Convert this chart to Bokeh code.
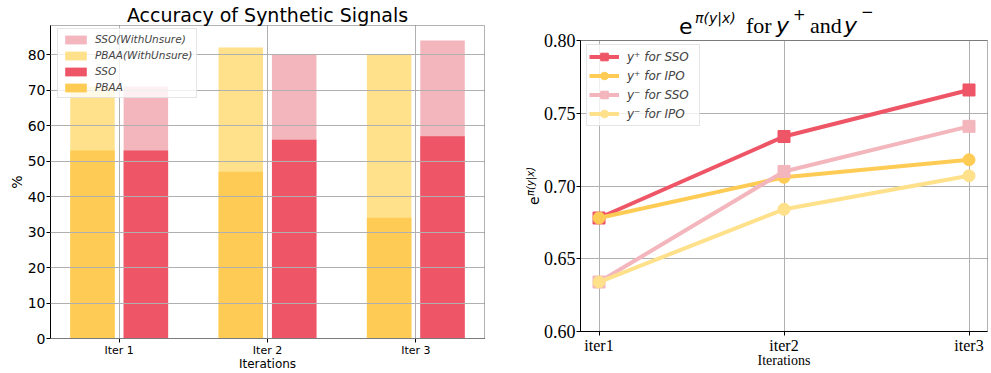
import math
from bokeh.plotting import figure
from bokeh.models import (Range1d, FixedTicker, Label, Legend, LegendItem,
                          ColumnDataSource, NumeralTickFormatter, BoxAnnotation, Grid)
from bokeh.transform import dodge
from bokeh.layouts import row
from bokeh.embed import file_html
from bokeh.resources import INLINE

# ---------------- data: left chart ----------------
iterations = ["Iter 1", "Iter 2", "Iter 3"]
pbaa = [53, 47, 34]
pbaa_unsure = [71, 82, 80]
sso = [53, 56, 57]
sso_unsure = [71, 80, 84]
acc_ticks = [0, 10, 20, 30, 40, 50, 60, 70, 80]

# ---------------- data: right chart ----------------
iter_labels = ["iter1", "iter2", "iter3"]
ypos_sso = [0.678, 0.734, 0.766]
ypos_ipo = [0.678, 0.706, 0.718]
yneg_sso = [0.634, 0.710, 0.741]
yneg_ipo = [0.634, 0.684, 0.707]
prob_ticks = [0.60, 0.65, 0.70, 0.75, 0.80]

RED = "#ee5566"
YEL = "#fecc55"
RED_L = "#f3b6bd"
YEL_L = "#fee18a"
GRID = "#b0b0b0"

# canvas / plotting-box geometry (pixels inside each canvas)
H = 372
P1_W = 500
P1_BOX = dict(left=50, right=484, top=25, bottom=338)
P2_W = 490
P2_BOX = dict(left=80, right=487, top=40, bottom=331)

HAS_CROSS = "cross_bounds" in Grid.properties()
MID = 0.346  # em-box middle above the baseline (DejaVu / Liberation)


def ext_range(v0, v1, a0, a1, total):
    """data range whose [v0, v1] lands on pixels [a0, a1] of a span of `total` px"""
    k = (v1 - v0) / (a1 - a0)
    return Range1d(v0 - a0 * k, v1 + (total - a1) * k)


def make_fig(w, box, x0, x1, y0, y1):
    xr = ext_range(x0, x1, box["left"], box["right"], w)
    yr = ext_range(y0, y1, H - box["bottom"], H - box["top"], H)
    p = figure(width=w, height=H, x_range=xr, y_range=yr, output_backend="svg",
               toolbar_location=None, title=None, min_border=0,
               min_border_left=0, min_border_right=0, min_border_top=0,
               min_border_bottom=0, background_fill_color="white",
               border_fill_color="white")
    p.outline_line_color = None
    p.xaxis.fixed_location = y0
    p.yaxis.fixed_location = x0
    p.xaxis.bounds = (x0, x1)
    p.yaxis.bounds = (y0, y1)
    for g in (p.xgrid, p.ygrid):
        g.grid_line_color = GRID
        g.grid_line_width = 1
    if HAS_CROSS:
        p.xgrid.cross_bounds = (y0, y1)
        p.ygrid.cross_bounds = (x0, x1)
    for ax in (p.xaxis, p.yaxis):
        ax.major_tick_out = 4
        ax.major_tick_in = 0
        ax.minor_tick_line_color = None
        ax.axis_line_color = "black"
        ax.major_tick_line_color = "black"
        ax.major_label_text_color = "black"
        ax.axis_label_text_color = "black"
        ax.axis_label_text_font_style = "normal"
    return p


def add_box(p, x0, x1, y0, y1):
    p.add_layout(BoxAnnotation(left=x0, right=x1, bottom=y0, top=y1, fill_color=None,
                               fill_alpha=0, line_color="black", line_width=1))


# ================= left figure =================
xs = list(range(len(iterations)))
bar_off = 0.18
bar_w = 0.3
lo = min(xs) - bar_off - bar_w / 2
hi = max(xs) + bar_off + bar_w / 2
pad = (hi - lo) * 0.05
X10, X11 = lo - pad, hi + pad
ymax = max(pbaa_unsure + sso_unsure) * 1.05

src = ColumnDataSource(dict(x=xs, pbaa=pbaa, pbaa_u=pbaa_unsure, sso=sso, sso_u=sso_unsure))

p1 = make_fig(P1_W, P1_BOX, X10, X11, 0, ymax)

r_pu = p1.vbar(x=dodge("x", -bar_off), top="pbaa_u", width=bar_w, source=src,
               fill_color=YEL_L, line_color=None)
r_su = p1.vbar(x=dodge("x", bar_off), top="sso_u", width=bar_w, source=src,
               fill_color=RED_L, line_color=None)
r_p = p1.vbar(x=dodge("x", -bar_off), top="pbaa", width=bar_w, source=src,
              fill_color=YEL, line_color=None)
r_s = p1.vbar(x=dodge("x", bar_off), top="sso", width=bar_w, source=src,
              fill_color=RED, line_color=None)

p1.xaxis.ticker = FixedTicker(ticks=xs)
p1.xaxis.major_label_overrides = {x: lab for x, lab in zip(xs, iterations)}
p1.yaxis.ticker = FixedTicker(ticks=acc_ticks)
p1.xgrid.ticker = FixedTicker(ticks=xs)
p1.ygrid.ticker = FixedTicker(ticks=acc_ticks)
p1.ygrid.level = "guide"
p1.xaxis.major_label_text_font = "DejaVu Sans"
p1.xaxis.major_label_text_font_size = "11px"
p1.xaxis.major_label_standoff = 1
p1.yaxis.major_label_text_font = "DejaVu Sans"
p1.yaxis.major_label_text_font_size = "14px"
p1.yaxis.major_label_standoff = 1
p1.xaxis.axis_label = "Iterations"
p1.xaxis.axis_label_text_font = "DejaVu Sans"
p1.xaxis.axis_label_text_font_size = "12px"
p1.xaxis.axis_label_standoff = -3

add_box(p1, X10, X11, 0, ymax)

leg1_n, leg1_row, leg1_sp, leg1_pad = 4, 12, 4, 4
leg1_h = leg1_n * leg1_row + (leg1_n - 1) * leg1_sp + 2 * leg1_pad
leg1 = Legend(items=[
    LegendItem(label="SSO(WithUnsure)", renderers=[r_su]),
    LegendItem(label="PBAA(WithUnsure)", renderers=[r_pu]),
    LegendItem(label="SSO", renderers=[r_s]),
    LegendItem(label="PBAA", renderers=[r_p]),
], location=(P1_BOX["left"] + 7, H - (P1_BOX["top"] + 5) - leg1_h),
    padding=leg1_pad, spacing=leg1_sp,
    glyph_width=27, glyph_height=11, label_height=leg1_row, label_standoff=6,
    label_text_font="DejaVu Sans", label_text_font_style="italic",
    label_text_font_size="10.5px", border_line_color="#cccccc",
    background_fill_alpha=0.8)
p1.add_layout(leg1)

xmid1 = (X10 + X11) / 2
p1.add_layout(Label(x=xmid1, y=ymax, y_offset=4 + MID * 19,
                    text="Accuracy of Synthetic Signals",
                    text_align="center", text_baseline="middle",
                    text_font="DejaVu Sans", text_font_size="19px", text_color="black"))
p1.add_layout(Label(x=X10, y=ymax / 2, x_offset=-34, text="%",
                    angle=math.pi / 2, text_align="center", text_baseline="middle",
                    text_font="DejaVu Sans", text_font_size="14px", text_color="black"))

# ================= right figure =================
xi = list(range(len(iter_labels)))
X20, X21 = min(xi) - 0.1, max(xi) + 0.1
ylo, yhi = min(prob_ticks), max(prob_ticks)

p2 = make_fig(P2_W, P2_BOX, X20, X21, ylo, yhi)

p2.xaxis.ticker = FixedTicker(ticks=xi)
p2.xaxis.major_label_overrides = {x: lab for x, lab in zip(xi, iter_labels)}
p2.yaxis.ticker = FixedTicker(ticks=prob_ticks)
p2.yaxis.formatter = NumeralTickFormatter(format="0.00")
p2.xgrid.ticker = FixedTicker(ticks=xi)
p2.ygrid.ticker = FixedTicker(ticks=prob_ticks)
p2.xaxis.major_label_text_font = "Liberation Serif"
p2.xaxis.major_label_text_font_size = "16px"
p2.xaxis.major_label_standoff = 1
p2.yaxis.major_label_text_font = "Liberation Serif"
p2.yaxis.major_label_text_font_size = "18px"
p2.yaxis.major_label_standoff = 1
p2.xaxis.axis_label = "Iterations"
p2.xaxis.axis_label_text_font = "Liberation Serif"
p2.xaxis.axis_label_text_font_size = "14px"
p2.xaxis.axis_label_standoff = -4

series = [
    ("y\u207a for SSO", ypos_sso, RED, "square"),
    ("y\u207a for IPO", ypos_ipo, YEL, "circle"),
    ("y\u207b for SSO", yneg_sso, RED_L, "square"),
    ("y\u207b for IPO", yneg_ipo, YEL_L, "circle"),
]
items = []
for lab, ys, col, mk in series:
    lr = p2.line(xi, ys, line_color=col, line_width=4)
    sr = p2.scatter(xi, ys, marker=mk, size=12, fill_color=col, line_color=col)
    items.append(LegendItem(label=lab, renderers=[lr, sr]))

add_box(p2, X20, X21, ylo, yhi)

leg2_n, leg2_glyph, leg2_sp, leg2_pad = 4, 19, 0, 2
leg2_h = leg2_n * leg2_glyph + (leg2_n - 1) * leg2_sp + 2 * leg2_pad
leg2 = Legend(items=items, location=(P2_BOX["left"] + 6, H - (P2_BOX["top"] + 6) - leg2_h),
              padding=leg2_pad, spacing=leg2_sp, glyph_width=30,
              glyph_height=leg2_glyph, label_height=14, label_width=70,
              label_standoff=8,
              label_text_font="DejaVu Sans", label_text_font_style="italic",
              label_text_font_size="12px", border_line_color="#cccccc",
              background_fill_alpha=0.8)
p2.add_layout(leg2)

xmid2 = (X20 + X21) / 2


def tlabel(text, dx, base, font, size, style="normal"):
    # base: baseline height above the box top, in px
    p2.add_layout(Label(x=xmid2, y=yhi, x_offset=dx, y_offset=base + MID * size,
                        text=text, text_align="left", text_baseline="middle",
                        text_font=font, text_font_size=f"{size}px",
                        text_font_style=style, text_color="black"))


tlabel("e", -105, 7, "DejaVu Sans", 22)
tlabel("\u03c0(y|x)", -89, 18, "DejaVu Sans", 14, "italic")
tlabel("for", -38, 7, "Liberation Serif", 22)
tlabel("y", -8, 7, "DejaVu Sans", 22, "italic")
tlabel("+", 9, 21, "DejaVu Sans", 15)
tlabel("and", 26, 7, "Liberation Serif", 22)
tlabel("y", 60, 7, "DejaVu Sans", 22, "italic")
tlabel("\u2212", 77, 24, "DejaVu Sans", 15)

# rotated y-axis label e^{pi(y|x)} (baseline lies on the right of rotated text)
ymid2 = (ylo + yhi) / 2
p2.add_layout(Label(x=X20, y=ymid2, x_offset=-42 - MID * 14, y_offset=-19,
                    text="e", angle=math.pi / 2, text_align="left",
                    text_baseline="middle", text_font="DejaVu Sans",
                    text_font_size="14px", text_color="black"))
p2.add_layout(Label(x=X20, y=ymid2, x_offset=-47 - MID * 10, y_offset=-10,
                    text="\u03c0(y|x)", angle=math.pi / 2, text_align="left",
                    text_baseline="middle", text_font="DejaVu Sans",
                    text_font_size="10px", text_font_style="italic",
                    text_color="black"))

layout = row(p1, p2)
open("out.html", "w").write(file_html(layout, INLINE))
